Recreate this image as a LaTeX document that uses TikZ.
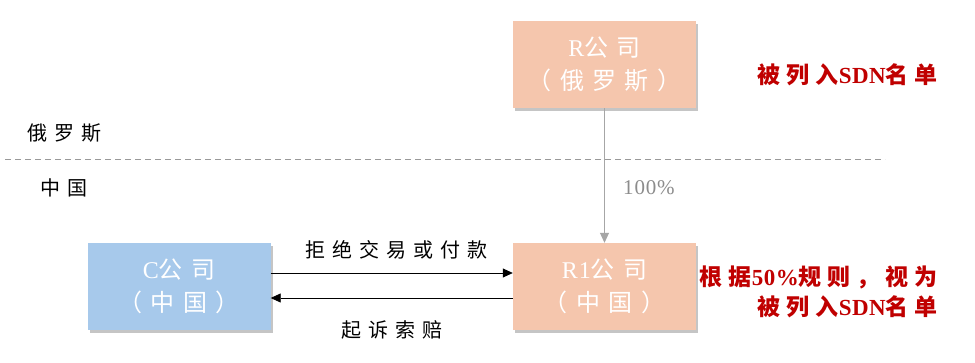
\documentclass[tikz,border=0pt]{standalone}
\usepackage{fontspec}
\usetikzlibrary{arrows.meta,shadows}
\newfontfamily\cjk[LetterSpace=35]{Noto Sans CJK SC}
\newfontfamily\cjkred[LetterSpace=26]{Noto Sans CJK SC}
\newfontfamily\lat[LetterSpace=4]{Liberation Serif}
\newfontfamily\latred[LetterSpace=2]{Liberation Serif}
\definecolor{rbox}{HTML}{F5C6AD}
\definecolor{cbox}{HTML}{A7C9EB}
\definecolor{darkred}{HTML}{C00000}
\tikzset{
  company/.style={draw=none, minimum width=183pt, minimum height=87pt, inner sep=0pt,
    text=white, align=center, font=\fontsize{24}{33}\selectfont\cjk,
    drop shadow={shadow xshift=2pt, shadow yshift=-3pt, fill=black!45, opacity=0.5}},
  lbl/.style={font=\fontsize{20}{28}\selectfont\cjk, text=black, inner sep=0pt},
  redlbl/.style={font=\fontsize{23}{30}\selectfont\cjkred\bfseries, text=darkred, inner sep=0pt, align=right},
  flow/.style={draw=black, line width=0.8pt, -{Triangle[length=10pt,width=9pt]}},
  owner/.style={draw=black!35, line width=0.8pt, -{Triangle[length=10pt,width=9pt]}}
}
\begin{document}
\begin{tikzpicture}[x=1pt,y=-1pt]
\useasboundingbox (0,0) rectangle (975,363);
\fill[white] (0,0) rectangle (975,363);
\coordinate (dl) at (5,159);
\coordinate (dr) at (885,159);
\draw[black!40, line width=0.8pt, dash pattern=on 6pt off 4pt] (dl) -- (dr);
\node[lbl, anchor=west] (ru) at (27,133) {俄罗斯};
\node[lbl, anchor=west] (cn) at (40,188) {中国};
\node[company, fill=rbox] (R) at (604.5,64.5) {{\lat R}公司\\（俄罗斯）};
\node[company, fill=rbox] (R1) at (604.5,286.5) {{\lat R1}公司\\（中国）};
\node[company, fill=cbox] (C) at (179,286.5) {{\lat C}公司\\（中国）};
\draw[owner] (R) -- (R1);
\node[font=\fontsize{21}{24}\selectfont\lat, text=black!45, anchor=west, inner sep=0pt] (pct) at (623,188) {100\%};
\draw[flow] ([yshift=13.5pt]C.east) -- ([yshift=13.5pt]R1.west);
\draw[flow] ([yshift=-11.5pt]R1.west) -- ([yshift=-11.5pt]C.east);
\node[lbl] (refuse) at (396,250) {拒绝交易或付款};
\node[lbl] (sue) at (392,330) {起诉索赔};
\node[redlbl, anchor=east] (sdn1) at (938,75) {被列入{\latred\bfseries SDN}名单};
\node[redlbl, anchor=east] (sdn2) at (938,292) {根据{\latred\bfseries 50\%}规则，视为\\被列入{\latred\bfseries SDN}名单};
\end{tikzpicture}
\end{document}
